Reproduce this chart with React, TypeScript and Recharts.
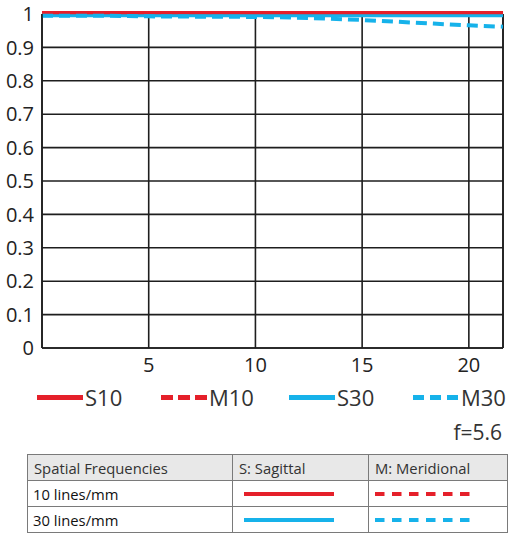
import React from 'react'
import { LineChart, Line, XAxis, YAxis, CartesianGrid, ReferenceLine } from 'recharts'

// image height in mm
const positions = [0, 2.5, 5, 7.5, 10, 12.5, 15, 17.5, 20, 21.6]
const s10 = [1, 1, 1, 1, 1, 1, 1, 1, 1, 1]
const m10 = [1, 1, 1, 1, 1, 1, 1, 1, 1, 1]
const s30 = [0.995, 0.995, 0.995, 0.995, 0.995, 0.995, 0.995, 0.995, 0.995, 0.995]
const m30 = [0.995, 0.995, 0.993, 0.992, 0.991, 0.988, 0.982, 0.974, 0.966, 0.962]

const xTicks = [5, 10, 15, 20]
const yTicks = [0, 0.1, 0.2, 0.3, 0.4, 0.5, 0.6, 0.7, 0.8, 0.9, 1]
const X_MAX = 21.6

const RED = '#e5202a'
const BLUE = '#16b2ea'
const FONT = '"Open Sans", sans-serif'

const data = positions.map((x, i) => ({ x, s10: s10[i], m10: m10[i], s30: s30[i], m30: m30[i] }))

const series = [
  { key: 's10', name: 'S10', color: RED, dash: undefined, width: 6, legendLeft: 37 },
  { key: 'm10', name: 'M10', color: RED, dash: '12 5', width: 6, legendLeft: 161 },
  { key: 's30', name: 'S30', color: BLUE, dash: undefined, width: 3, legendLeft: 289 },
  { key: 'm30', name: 'M30', color: BLUE, dash: '11 6', width: 4, legendLeft: 413 },
]

const tableRows = [
  { label: '10 lines/mm', color: RED },
  { label: '30 lines/mm', color: BLUE },
]

const Sample = ({ color, dash, width, len, thick }: { color: string; dash?: string; width: number; len: number; thick: number }) => (
  <svg width={width} height={thick + 2} style={{ display: 'block' }}>
    <line x1={0} x2={len} y1={(thick + 2) / 2} y2={(thick + 2) / 2} stroke={color} strokeWidth={thick} strokeDasharray={dash} />
  </svg>
)

const cell: React.CSSProperties = { border: '1px solid #7a7a7a', padding: '0 6px', height: 26, boxSizing: 'border-box' }

export default function App() {
  return (
    <div style={{ position: 'relative', width: 512, height: 543, fontFamily: FONT, color: '#222' }}>
      <style>{'body{margin:0;background:#fff}'}</style>
      <LineChart width={512} height={380} data={data} margin={{ top: 14, right: 9, bottom: 0, left: 0 }}>
        <CartesianGrid stroke="#1e1e1e" strokeWidth={1.6} />
        <XAxis
          dataKey="x"
          type="number"
          domain={[0, X_MAX]}
          ticks={xTicks}
          height={32}
          tickLine={false}
          tickSize={6}
          tickMargin={4}
          axisLine={{ stroke: '#1e1e1e', strokeWidth: 1.6 }}
          tick={{ fill: '#222', fontSize: 20, fontFamily: FONT }}
        />
        <YAxis
          type="number"
          domain={[0, 1]}
          ticks={yTicks}
          width={42}
          tickLine={false}
          tickSize={6}
          tickMargin={2}
          axisLine={{ stroke: '#1e1e1e', strokeWidth: 1.6 }}
          tick={{ fill: '#222', fontSize: 20, fontFamily: FONT }}
        />
        <ReferenceLine x={X_MAX} stroke="#1e1e1e" strokeWidth={1.6} />
        {series.map((s) => (
          <Line
            key={s.key}
            type="monotone"
            dataKey={s.key}
            stroke={s.color}
            strokeWidth={s.width}
            strokeDasharray={s.dash}
            dot={false}
            isAnimationActive={false}
          />
        ))}
      </LineChart>

      {series.map((s) => (
        <div
          key={s.key}
          style={{ position: 'absolute', top: 382, left: s.legendLeft, display: 'flex', alignItems: 'center', fontSize: 22, lineHeight: '30px', color: '#333' }}
        >
          <Sample color={s.color} dash={s.dash} width={47} len={46} thick={5} />
          <span style={{ marginLeft: 1 }}>{s.name}</span>
        </div>
      ))}

      <div style={{ position: 'absolute', top: 418, right: 10, fontSize: 21, color: '#333' }}>f=5.6</div>

      <table style={{ position: 'absolute', top: 454, left: 27, width: 481, borderCollapse: 'collapse', fontSize: 14.8, color: '#333' }}>
        <tbody>
          <tr style={{ background: '#e8e8e8' }}>
            <td style={{ ...cell, width: 205 }}>Spatial Frequencies</td>
            <td style={{ ...cell, width: 136 }}>S: Sagittal</td>
            <td style={cell}>M: Meridional</td>
          </tr>
          {tableRows.map((r) => (
            <tr key={r.label}>
              <td style={{ ...cell, paddingLeft: 5, color: '#111' }}>{r.label}</td>
              <td style={cell}>
                <div style={{ marginLeft: 5 }}>
                  <Sample color={r.color} width={90} len={90} thick={4} />
                </div>
              </td>
              <td style={cell}>
                <div style={{ marginLeft: 0 }}>
                  <Sample color={r.color} dash="9.5 7.5" width={97} len={97} thick={4} />
                </div>
              </td>
            </tr>
          ))}
        </tbody>
      </table>
    </div>
  )
}
